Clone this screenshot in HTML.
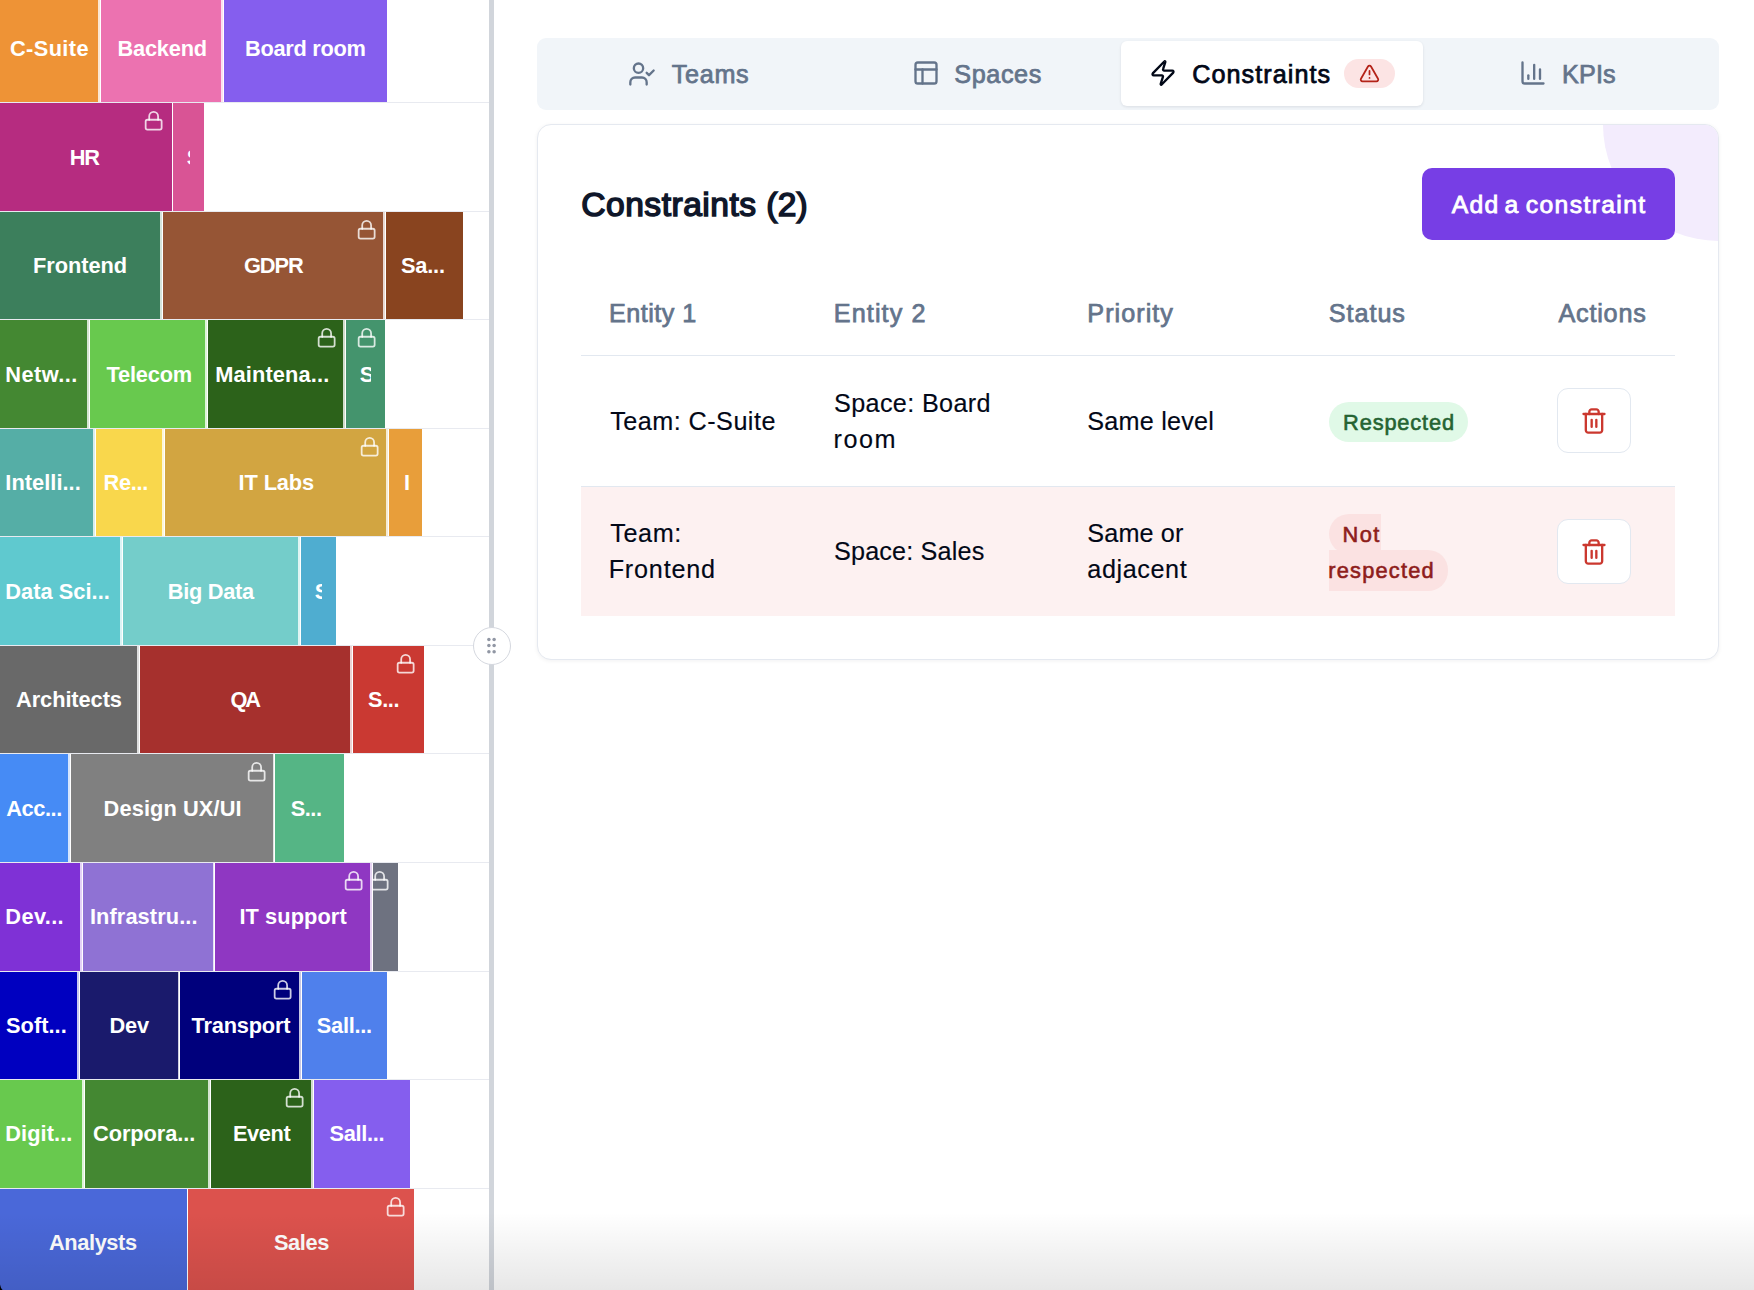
<!DOCTYPE html>
<html lang="en">
<head>
<meta charset="utf-8">
<title>Constraints</title>
<style>
*{box-sizing:border-box;margin:0;padding:0}
html,body{width:1754px;height:1290px;overflow:hidden;background:#fff}
body{position:relative;font-family:"Liberation Sans",sans-serif;color:#020817}
#left{position:absolute;left:0;top:0;width:489.3px;height:1290px;overflow:hidden;background:#fff}
.b{position:absolute;overflow:hidden}
.t{position:absolute;white-space:nowrap;color:#fff;font-weight:700;font-size:21.8px;line-height:1;transform:scaleY(1.03);transform-origin:0 84.65%}
.cl{position:absolute;left:14px;top:0;overflow:hidden}
.lk{position:absolute;top:6.8px;width:21.3px;height:21.3px}
.hl{position:absolute;left:0;width:489.3px;height:1px;background:#e8eaf0}
#bar{position:absolute;left:489.3px;top:0;width:4.7px;height:1290px;background:#d1d5db}
#grip{position:absolute;left:473.1px;top:626.8px;width:38px;height:38px;border-radius:50%;background:#fff;border:1.3px solid #d5d8df}
#grip svg{position:absolute;left:7.2px;top:7.2px;width:21px;height:21px}
.x{position:absolute;white-space:nowrap;line-height:1}
#tabs{position:absolute;left:537.1px;top:37.7px;width:1181.9px;height:72.1px;background:#f1f5f9;border-radius:9px}
#tabon{position:absolute;left:1120.9px;top:41.2px;width:302.4px;height:64.8px;background:#fff;border-radius:6px;box-shadow:0 1px 3px rgba(15,23,42,.10)}
.ic{position:absolute;fill:none;stroke-linecap:round;stroke-linejoin:round}
#card{position:absolute;left:537px;top:124px;width:1182px;height:536px;border:1px solid #e5e9f0;border-radius:14px;background:#fff;overflow:hidden;box-shadow:0 1px 4px rgba(15,23,42,.06)}
#circ{position:absolute;left:1064.5px;top:-116.9px;width:233px;height:233px;border-radius:50%;background:#f3ecfd}
#btn{position:absolute;left:1422.1px;top:168px;width:253.2px;height:72px;background:#773ee5;border-radius:10px}
.ln{position:absolute;left:581px;width:1094px;height:1.5px;background:#e2e8f0}
#row2{position:absolute;left:581px;top:487px;width:1094px;height:128.8px;background:#fdf1f1}
.del{position:absolute;left:1557px;width:73.7px;height:64.5px;border:1.5px solid #e2e8f0;border-radius:11px;background:#fff}
#pill{position:absolute;left:1344.1px;top:58.9px;width:50.9px;height:28.8px;border-radius:15px;background:#fce4e4}
#ok{position:absolute;left:1328.8px;top:402.2px;width:139.2px;height:39.6px;border-radius:20px;background:#e0f9e7}
#shade{position:absolute;left:0;top:1212px;width:1754px;height:78px;background:linear-gradient(to bottom,rgba(0,0,0,0),rgba(0,0,0,.095));pointer-events:none}
#corner{position:absolute;left:-6px;top:1274px;width:40px;height:40px}
</style>
</head>
<body>
<div id="left">
<div class="hl" style="top:102px"></div>
<div class="hl" style="top:211px"></div>
<div class="hl" style="top:319px"></div>
<div class="hl" style="top:428px"></div>
<div class="hl" style="top:536px"></div>
<div class="hl" style="top:645px"></div>
<div class="hl" style="top:753px"></div>
<div class="hl" style="top:862px"></div>
<div class="hl" style="top:971px"></div>
<div class="hl" style="top:1079px"></div>
<div class="hl" style="top:1188px"></div>
<div class="b" style="left:0px;top:-6px;width:100px;height:108px;background:#EE9336;border-right:2px solid rgba(255,255,255,.78)"><span class="t" style="left:10px;top:43.55px;letter-spacing:0.38px">C-Suite</span></div>
<div class="b" style="left:101px;top:-6px;width:122px;height:108px;background:#EC72B0;border-right:2px solid rgba(255,255,255,.78)"><span class="t" style="left:16.5px;top:43.55px;letter-spacing:-0.22px">Backend</span></div>
<div class="b" style="left:224px;top:-6px;width:163px;height:108px;background:#855EEE"><span class="t" style="left:21px;top:43.55px;letter-spacing:-0.29px">Board room</span></div>
<div class="b" style="left:0px;top:103px;width:172px;height:108px;background:#B62C80"><span class="t" style="left:69.7px;top:43.55px;letter-spacing:-1.3px">HR</span><svg class="lk" style="left:143.28px" viewBox="0 0 24 24" fill="none" stroke="#fff" stroke-opacity=".8" stroke-width="2" stroke-linecap="round" stroke-linejoin="round"><rect x="3" y="11" width="18" height="11" rx="2" ry="2"/><path d="M7 11V7a5 5 0 0 1 10 0v4"/></svg></div>
<div class="b" style="left:173px;top:103px;width:31px;height:108px;background:#D95495"><div class="cl" style="width:3px;height:108px"><span class="t" style="left:-0.2px;top:43.55px">S...</span></div></div>
<div class="b" style="left:0px;top:212px;width:162px;height:107px;background:#3C7F5C;border-right:2px solid rgba(255,255,255,.78)"><span class="t" style="left:33px;top:42.55px;letter-spacing:-0.04px">Frontend</span></div>
<div class="b" style="left:163px;top:212px;width:222px;height:107px;background:#965535;border-right:2px solid rgba(255,255,255,.78)"><span class="t" style="left:80.9px;top:42.55px;letter-spacing:-1.03px">GDPR</span><svg class="lk" style="left:192.58px" viewBox="0 0 24 24" fill="none" stroke="#fff" stroke-opacity=".8" stroke-width="2" stroke-linecap="round" stroke-linejoin="round"><rect x="3" y="11" width="18" height="11" rx="2" ry="2"/><path d="M7 11V7a5 5 0 0 1 10 0v4"/></svg></div>
<div class="b" style="left:386px;top:212px;width:77px;height:107px;background:#89441F"><span class="t" style="left:15.05px;top:42.55px;letter-spacing:-0.23px">Sa...</span></div>
<div class="b" style="left:0px;top:320px;width:89px;height:108px;background:#448832;border-right:2px solid rgba(255,255,255,.78)"><span class="t" style="left:5.3px;top:43.55px;letter-spacing:0.42px">Netw...</span></div>
<div class="b" style="left:90px;top:320px;width:117px;height:108px;background:#68C94E;border-right:2px solid rgba(255,255,255,.78)"><span class="t" style="left:16.55px;top:43.55px;letter-spacing:-0.19px">Telecom</span></div>
<div class="b" style="left:208px;top:320px;width:137px;height:108px;background:#2C621A;border-right:2px solid rgba(255,255,255,.78)"><span class="t" style="left:7.2px;top:43.55px;letter-spacing:0.14px">Maintena...</span><svg class="lk" style="left:107.58px" viewBox="0 0 24 24" fill="none" stroke="#fff" stroke-opacity=".8" stroke-width="2" stroke-linecap="round" stroke-linejoin="round"><rect x="3" y="11" width="18" height="11" rx="2" ry="2"/><path d="M7 11V7a5 5 0 0 1 10 0v4"/></svg></div>
<div class="b" style="left:346px;top:320px;width:39px;height:108px;background:#44946D"><div class="cl" style="width:11px;height:108px"><span class="t" style="left:-0.2px;top:43.55px">S...</span></div><svg class="lk" style="left:10.18px" viewBox="0 0 24 24" fill="none" stroke="#fff" stroke-opacity=".8" stroke-width="2" stroke-linecap="round" stroke-linejoin="round"><rect x="3" y="11" width="18" height="11" rx="2" ry="2"/><path d="M7 11V7a5 5 0 0 1 10 0v4"/></svg></div>
<div class="b" style="left:0px;top:429px;width:95px;height:107px;background:#55AEA6;border-right:2px solid rgba(255,255,255,.78)"><span class="t" style="left:5.3px;top:42.55px;letter-spacing:0.04px">Intelli...</span></div>
<div class="b" style="left:96px;top:429px;width:68px;height:107px;background:#F9D74C;border-right:2px solid rgba(255,255,255,.78)"><span class="t" style="left:7.6px;top:42.55px;letter-spacing:-0.33px">Re...</span></div>
<div class="b" style="left:165px;top:429px;width:223px;height:107px;background:#D2A541;border-right:2px solid rgba(255,255,255,.78)"><span class="t" style="left:73.6px;top:42.55px;letter-spacing:-0.12px">IT Labs</span><svg class="lk" style="left:193.58px" viewBox="0 0 24 24" fill="none" stroke="#fff" stroke-opacity=".8" stroke-width="2" stroke-linecap="round" stroke-linejoin="round"><rect x="3" y="11" width="18" height="11" rx="2" ry="2"/><path d="M7 11V7a5 5 0 0 1 10 0v4"/></svg></div>
<div class="b" style="left:389px;top:429px;width:33px;height:107px;background:#E89E3A"><span class="t" style="left:15px;top:42.55px;letter-spacing:0px">I</span></div>
<div class="b" style="left:0px;top:537px;width:122px;height:108px;background:#5FC9CF;border-right:2px solid rgba(255,255,255,.78)"><span class="t" style="left:5.3px;top:43.55px;letter-spacing:0.03px">Data Sci...</span></div>
<div class="b" style="left:123px;top:537px;width:177px;height:108px;background:#74CDCA;border-right:2px solid rgba(255,255,255,.78)"><span class="t" style="left:44.8px;top:43.55px;letter-spacing:-0.3px">Big Data</span></div>
<div class="b" style="left:301px;top:537px;width:35px;height:108px;background:#4FADD0"><div class="cl" style="width:7px;height:108px"><span class="t" style="left:-0.2px;top:43.55px">S...</span></div></div>
<div class="b" style="left:0px;top:646px;width:139px;height:107px;background:#696969;border-right:2px solid rgba(255,255,255,.78)"><span class="t" style="left:16px;top:42.55px;letter-spacing:-0.07px">Architects</span></div>
<div class="b" style="left:140px;top:646px;width:212px;height:107px;background:#A6302D;border-right:2px solid rgba(255,255,255,.78)"><span class="t" style="left:90.6px;top:42.55px;letter-spacing:-2.2px">QA</span></div>
<div class="b" style="left:353px;top:646px;width:71px;height:107px;background:#CA3932"><span class="t" style="left:15.05px;top:42.55px;letter-spacing:-0.4px">S...</span><svg class="lk" style="left:42.18px" viewBox="0 0 24 24" fill="none" stroke="#fff" stroke-opacity=".8" stroke-width="2" stroke-linecap="round" stroke-linejoin="round"><rect x="3" y="11" width="18" height="11" rx="2" ry="2"/><path d="M7 11V7a5 5 0 0 1 10 0v4"/></svg></div>
<div class="b" style="left:0px;top:754px;width:70px;height:108px;background:#468BF5;border-right:2px solid rgba(255,255,255,.78)"><span class="t" style="left:6.3px;top:43.55px;letter-spacing:-0.45px">Acc...</span></div>
<div class="b" style="left:71px;top:754px;width:203px;height:108px;background:#808080;border-right:1px solid rgba(255,255,255,.78)"><span class="t" style="left:32.6px;top:43.55px;letter-spacing:0.1px">Design UX/UI</span><svg class="lk" style="left:174.58px" viewBox="0 0 24 24" fill="none" stroke="#fff" stroke-opacity=".8" stroke-width="2" stroke-linecap="round" stroke-linejoin="round"><rect x="3" y="11" width="18" height="11" rx="2" ry="2"/><path d="M7 11V7a5 5 0 0 1 10 0v4"/></svg></div>
<div class="b" style="left:275.3px;top:754px;width:68.7px;height:108px;background:#55B585"><span class="t" style="left:15.35px;top:43.55px;letter-spacing:-0.43px">S...</span></div>
<div class="b" style="left:0px;top:863px;width:82px;height:108px;background:#7F31D6;border-right:2px solid rgba(255,255,255,.78)"><span class="t" style="left:5.3px;top:42.55px;letter-spacing:0.36px">Dev...</span></div>
<div class="b" style="left:83px;top:863px;width:131px;height:108px;background:#8F72D4;border-right:1px solid rgba(255,255,255,.78)"><span class="t" style="left:6.9px;top:42.55px;letter-spacing:0.1px">Infrastru...</span></div>
<div class="b" style="left:215.2px;top:863px;width:156.8px;height:108px;background:#8F37C2;border-right:2px solid rgba(255,255,255,.78)"><span class="t" style="left:24.3px;top:42.55px;letter-spacing:0.07px">IT support</span><svg class="lk" style="left:127.38px" viewBox="0 0 24 24" fill="none" stroke="#fff" stroke-opacity=".8" stroke-width="2" stroke-linecap="round" stroke-linejoin="round"><rect x="3" y="11" width="18" height="11" rx="2" ry="2"/><path d="M7 11V7a5 5 0 0 1 10 0v4"/></svg></div>
<div class="b" style="left:373px;top:863px;width:25px;height:108px;background:#6E7280"><svg class="lk" style="left:-3.82px" viewBox="0 0 24 24" fill="none" stroke="#fff" stroke-opacity=".8" stroke-width="2" stroke-linecap="round" stroke-linejoin="round"><rect x="3" y="11" width="18" height="11" rx="2" ry="2"/><path d="M7 11V7a5 5 0 0 1 10 0v4"/></svg></div>
<div class="b" style="left:0px;top:972px;width:79px;height:107px;background:#0000C0;border-right:2px solid rgba(255,255,255,.78)"><span class="t" style="left:6.05px;top:42.55px;letter-spacing:0.03px">Soft...</span></div>
<div class="b" style="left:80px;top:972px;width:99px;height:107px;background:#1A1A6C;border-right:1px solid rgba(255,255,255,.78)"><span class="t" style="left:29.6px;top:42.55px;letter-spacing:-0.28px">Dev</span></div>
<div class="b" style="left:180.2px;top:972px;width:120.8px;height:107px;background:#00007C;border-right:2px solid rgba(255,255,255,.78)"><span class="t" style="left:11.35px;top:42.55px;letter-spacing:-0.19px">Transport</span><svg class="lk" style="left:91.38px" viewBox="0 0 24 24" fill="none" stroke="#fff" stroke-opacity=".8" stroke-width="2" stroke-linecap="round" stroke-linejoin="round"><rect x="3" y="11" width="18" height="11" rx="2" ry="2"/><path d="M7 11V7a5 5 0 0 1 10 0v4"/></svg></div>
<div class="b" style="left:302px;top:972px;width:85px;height:107px;background:#4F80EC"><span class="t" style="left:14.85px;top:42.55px;letter-spacing:-0.28px">Sall...</span></div>
<div class="b" style="left:0px;top:1080px;width:84px;height:108px;background:#68C94E;border-right:2px solid rgba(255,255,255,.78)"><span class="t" style="left:5.3px;top:42.55px;letter-spacing:0.06px">Digit...</span></div>
<div class="b" style="left:85px;top:1080px;width:125px;height:108px;background:#448832;border-right:2px solid rgba(255,255,255,.78)"><span class="t" style="left:8px;top:42.55px;letter-spacing:-0.08px">Corpora...</span></div>
<div class="b" style="left:211px;top:1080px;width:102px;height:108px;background:#2C621A;border-right:2px solid rgba(255,255,255,.78)"><span class="t" style="left:22px;top:42.55px;letter-spacing:-0.42px">Event</span><svg class="lk" style="left:72.58px" viewBox="0 0 24 24" fill="none" stroke="#fff" stroke-opacity=".8" stroke-width="2" stroke-linecap="round" stroke-linejoin="round"><rect x="3" y="11" width="18" height="11" rx="2" ry="2"/><path d="M7 11V7a5 5 0 0 1 10 0v4"/></svg></div>
<div class="b" style="left:314px;top:1080px;width:96px;height:108px;background:#855EEE"><span class="t" style="left:15.55px;top:42.55px;letter-spacing:-0.31px">Sall...</span></div>
<div class="b" style="left:0px;top:1189px;width:187px;height:108px;background:#4A68D9"><span class="t" style="left:49px;top:42.55px;letter-spacing:-0.4px">Analysts</span></div>
<div class="b" style="left:188.1px;top:1189px;width:225.9px;height:108px;background:#DC524D"><span class="t" style="left:85.85px;top:42.55px;letter-spacing:-0.41px">Sales</span><svg class="lk" style="left:197.08px" viewBox="0 0 24 24" fill="none" stroke="#fff" stroke-opacity=".8" stroke-width="2" stroke-linecap="round" stroke-linejoin="round"><rect x="3" y="11" width="18" height="11" rx="2" ry="2"/><path d="M7 11V7a5 5 0 0 1 10 0v4"/></svg></div>
</div>
<div id="bar"></div>
<div id="grip"><svg viewBox="0 0 24 24" fill="#9197a4"><circle cx="9" cy="5" r="2"/><circle cx="15" cy="5" r="2"/><circle cx="9" cy="12" r="2"/><circle cx="15" cy="12" r="2"/><circle cx="9" cy="19" r="2"/><circle cx="15" cy="19" r="2"/></svg></div>
<div id="tabs"></div><div id="tabon"></div>
<svg class="ic" style="left:628px;top:59.8px;width:28px;height:28px" viewBox="0 0 24 24" stroke="#64748b" stroke-width="2"><path d="M16 21v-2a4 4 0 0 0-4-4H6a4 4 0 0 0-4 4v2"/><circle cx="9" cy="7" r="4"/><polyline points="16 11 18 13 22 9"/></svg>
<svg class="ic" style="left:911.5px;top:59.1px;width:28px;height:28px" viewBox="0 0 24 24" stroke="#64748b" stroke-width="2"><rect width="18" height="18" x="3" y="3" rx="2"/><path d="M3 9h18"/><path d="M9 21V9"/></svg>
<svg class="ic" style="left:1149.3px;top:59.4px;width:28px;height:28px" viewBox="0 0 24 24" stroke="#020817" stroke-width="2"><path d="M4 14a1 1 0 0 1-.78-1.63l9.9-10.2a.5.5 0 0 1 .86.46l-1.92 6.02A1 1 0 0 0 13 10h7a1 1 0 0 1 .78 1.63l-9.9 10.2a.5.5 0 0 1-.86-.46l1.92-6.02A1 1 0 0 0 11 14z"/></svg>
<div id="pill"></div>
<svg class="ic" style="left:1359px;top:62.9px;width:21px;height:21px" viewBox="0 0 24 24" stroke="#b42318" stroke-width="2"><path d="m21.73 18-8-14a2 2 0 0 0-3.48 0l-8 14A2 2 0 0 0 4 21h16a2 2 0 0 0 1.73-3"/><path d="M12 9v4"/><path d="M12 17h.01"/></svg>
<svg class="ic" style="left:1518.6px;top:59.4px;width:28px;height:28px" viewBox="0 0 24 24" stroke="#64748b" stroke-width="2"><path d="M3 3v16a2 2 0 0 0 2 2h16"/><path d="M18 17V9"/><path d="M13 17V5"/><path d="M8 17v-3"/></svg>
<div id="card"><div id="circ"></div></div>
<div id="btn"></div>
<div class="ln" style="top:354.6px"></div>
<div id="row2"></div>
<div class="ln" style="top:485.6px"></div>
<div id="ok"></div>
<div style="position:absolute;left:1328.7px;top:514.4px;width:52.5px;height:39.6px;background:#fbe2e2;border-radius:20px 0 0 20px"></div>
<div style="position:absolute;left:1328.7px;top:550px;width:119.1px;height:40.9px;background:#fbe2e2;border-radius:0 20px 20px 0"></div>
<div class="del" style="top:388.1px"></div>
<svg class="ic" style="left:1579.8px;top:406.7px;width:28px;height:28px" viewBox="0 0 24 24" stroke="#cb382f" stroke-width="2"><path d="M3 6h18"/><path d="M19 6v14c0 1-1 2-2 2H7c-1 0-2-1-2-2V6"/><path d="M8 6V4c0-1 1-2 2-2h4c1 0 2 1 2 2v2"/><line x1="10" x2="10" y1="11" y2="17"/><line x1="14" x2="14" y1="11" y2="17"/></svg>
<div class="del" style="top:519.1px"></div>
<svg class="ic" style="left:1579.8px;top:537.7px;width:28px;height:28px" viewBox="0 0 24 24" stroke="#cb382f" stroke-width="2"><path d="M3 6h18"/><path d="M19 6v14c0 1-1 2-2 2H7c-1 0-2-1-2-2V6"/><path d="M8 6V4c0-1 1-2 2-2h4c1 0 2 1 2 2v2"/><line x1="10" x2="10" y1="11" y2="17"/><line x1="14" x2="14" y1="11" y2="17"/></svg>
<div class="x" style="left:671.75px;top:62.07px;font-size:25.2px;font-weight:400;color:#64748b;letter-spacing:0.69px;-webkit-text-stroke:0.75px #64748b;">Teams</div>
<div class="x" style="left:954.35px;top:62.07px;font-size:25.2px;font-weight:400;color:#64748b;letter-spacing:0.59px;-webkit-text-stroke:0.75px #64748b;">Spaces</div>
<div class="x" style="left:1192.3px;top:62.07px;font-size:25.2px;font-weight:400;color:#020817;letter-spacing:1.04px;-webkit-text-stroke:0.75px #020817;">Constraints</div>
<div class="x" style="left:1562.05px;top:62.07px;font-size:25.2px;font-weight:400;color:#64748b;letter-spacing:0.13px;-webkit-text-stroke:0.75px #64748b;">KPIs</div>
<div class="x" style="left:581.3px;top:187.56px;font-size:33.6px;font-weight:400;color:#0f172a;letter-spacing:0.49px;-webkit-text-stroke:1.5px #0f172a;">Constraints</div>
<div class="x" style="left:766.35px;top:187.56px;font-size:33.6px;font-weight:400;color:#0f172a;letter-spacing:0.1px;-webkit-text-stroke:1.5px #0f172a;">(2)</div>
<div class="x" style="left:1451.8px;top:192.69px;font-size:24.7px;font-weight:400;color:#fff;letter-spacing:1.27px;-webkit-text-stroke:0.85px #fff;">Add</div>
<div class="x" style="left:1504.45px;top:192.69px;font-size:24.7px;font-weight:400;color:#fff;letter-spacing:0px;-webkit-text-stroke:0.85px #fff;">a</div>
<div class="x" style="left:1525.75px;top:192.69px;font-size:24.7px;font-weight:400;color:#fff;letter-spacing:1.38px;-webkit-text-stroke:0.85px #fff;">constraint</div>
<div class="x" style="left:609.05px;top:300.57px;font-size:25.2px;font-weight:400;color:#64748b;letter-spacing:0.47px;-webkit-text-stroke:0.75px #64748b;">Entity 1</div>
<div class="x" style="left:833.85px;top:300.57px;font-size:25.2px;font-weight:400;color:#64748b;letter-spacing:1.08px;-webkit-text-stroke:0.75px #64748b;">Entity 2</div>
<div class="x" style="left:1087.35px;top:300.57px;font-size:25.2px;font-weight:400;color:#64748b;letter-spacing:1.03px;-webkit-text-stroke:0.75px #64748b;">Priority</div>
<div class="x" style="left:1328.85px;top:300.57px;font-size:25.2px;font-weight:400;color:#64748b;letter-spacing:0.94px;-webkit-text-stroke:0.75px #64748b;">Status</div>
<div class="x" style="left:1558.4px;top:300.57px;font-size:25.2px;font-weight:400;color:#64748b;letter-spacing:0.8px;-webkit-text-stroke:0.75px #64748b;">Actions</div>
<div class="x" style="left:610.2px;top:408.87px;font-size:25.2px;font-weight:400;color:#020817;letter-spacing:0.47px;-webkit-text-stroke:0.15px #020817;">Team: C-Suite</div>
<div class="x" style="left:834px;top:390.97px;font-size:25.2px;font-weight:400;color:#020817;letter-spacing:0.36px;-webkit-text-stroke:0.15px #020817;">Space: Board</div>
<div class="x" style="left:833.5px;top:426.77px;font-size:25.2px;font-weight:400;color:#020817;letter-spacing:1.52px;-webkit-text-stroke:0.15px #020817;">room</div>
<div class="x" style="left:1087.3px;top:408.87px;font-size:25.2px;font-weight:400;color:#020817;letter-spacing:0.22px;-webkit-text-stroke:0.15px #020817;">Same level</div>
<div class="x" style="left:1343.1px;top:412.25px;font-size:21.8px;font-weight:400;color:#256332;letter-spacing:0.84px;-webkit-text-stroke:0.6px #256332;">Respected</div>
<div class="x" style="left:610.2px;top:521.47px;font-size:25.2px;font-weight:400;color:#020817;letter-spacing:0.64px;-webkit-text-stroke:0.15px #020817;">Team:</div>
<div class="x" style="left:608.7px;top:557.27px;font-size:25.2px;font-weight:400;color:#020817;letter-spacing:0.79px;-webkit-text-stroke:0.15px #020817;">Frontend</div>
<div class="x" style="left:834px;top:538.87px;font-size:25.2px;font-weight:400;color:#020817;letter-spacing:0.17px;-webkit-text-stroke:0.15px #020817;">Space: Sales</div>
<div class="x" style="left:1087.3px;top:521.47px;font-size:25.2px;font-weight:400;color:#020817;letter-spacing:0.15px;-webkit-text-stroke:0.15px #020817;">Same or</div>
<div class="x" style="left:1087.3px;top:557.27px;font-size:25.2px;font-weight:400;color:#020817;letter-spacing:0.59px;-webkit-text-stroke:0.15px #020817;">adjacent</div>
<div class="x" style="left:1342.5px;top:524.35px;font-size:21.8px;font-weight:400;color:#8e1d1b;letter-spacing:1.45px;-webkit-text-stroke:0.6px #8e1d1b;">Not</div>
<div class="x" style="left:1328.35px;top:559.65px;font-size:21.8px;font-weight:400;color:#8e1d1b;letter-spacing:1.2px;-webkit-text-stroke:0.6px #8e1d1b;">respected</div>
<div id="shade"></div>
<svg style="position:absolute;left:0;top:1280px;width:10px;height:10px" viewBox="0 0 10 10"><path d="M0 4.5 Q0.6 8.2 2.6 10 L0 10 Z" fill="#000"/></svg>
</body>
</html>
